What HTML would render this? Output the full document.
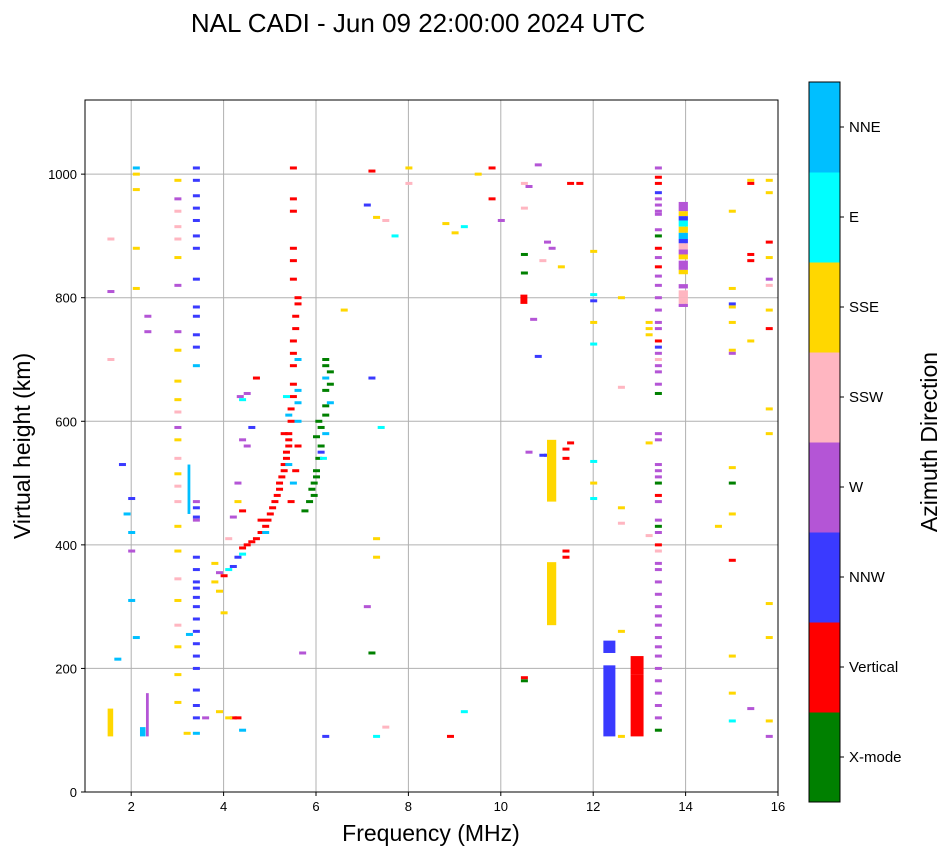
<!DOCTYPE html>
<html><head><meta charset="utf-8"><style>
body{margin:0;background:#fff;font-family:"Liberation Sans","DejaVu Sans",sans-serif}
svg text{font-family:"Liberation Sans","DejaVu Sans",sans-serif}
</style></head><body>
<svg id="c" width="951" height="856"></svg>
<script>
const dirNames=['X-mode','Vertical','NNW','W','SSW','SSE','E','NNE'];
const dirColors=['#008000','#ff0000','#3a3aff','#b455d6','#ffb6c1','#ffd700','#00ffff','#00bfff'];
const xTicks=[2,4,6,8,10,12,14,16];
const yTicks=[0,200,400,600,800,1000];
// echo groups: each entry [freq MHz, height km, direction index]
const lowFreqEchoes=[[2.1,1010,7],[2.1,1000,5],[2.1,975,5],[2.1,880,5],[2.1,815,5],[2.35,770,3],[2.35,745,3],[1.55,810,3],[1.55,700,4],[1.55,895,4],[1.8,530,2],[2.0,475,2],[2.0,390,3],[2.0,310,7],[1.7,215,7],[2.0,420,7],[1.9,450,7],[2.1,250,7]];
const col30Echoes=[[3.0,990,5],[3.0,960,3],[3.0,940,4],[3.0,915,4],[3.0,895,4],[3.0,865,5],[3.0,820,3],[3.0,745,3],[3.0,715,5],[3.0,665,5],[3.0,635,5],[3.0,615,4],[3.0,590,3],[3.0,570,5],[3.0,540,4],[3.0,515,5],[3.0,495,4],[3.0,470,4],[3.0,430,5],[3.0,390,5],[3.0,345,4],[3.0,310,5],[3.0,270,4],[3.0,235,5],[3.0,190,5],[3.0,145,5]];
const col34Echoes=[[3.4,1010,2],[3.4,990,2],[3.4,965,2],[3.4,945,2],[3.4,925,2],[3.4,900,2],[3.4,880,2],[3.4,830,2],[3.4,785,2],[3.4,770,2],[3.4,740,2],[3.4,720,2],[3.4,690,7],[3.4,470,3],[3.4,460,2],[3.4,445,2],[3.4,440,3],[3.4,380,2],[3.4,360,2],[3.4,340,2],[3.4,330,2],[3.4,315,2],[3.4,300,2],[3.4,280,2],[3.4,260,2],[3.4,240,2],[3.4,220,2],[3.4,200,2],[3.4,165,2],[3.4,140,2],[3.4,120,2],[3.4,95,7],[3.2,95,5],[3.25,255,7]];
const mainTraceEchoes=[[3.8,370,5],[3.9,355,3],[4.0,350,1],[4.1,360,6],[4.2,365,2],[4.3,380,2],[4.4,385,6],[4.4,395,1],[4.5,400,1],[4.6,405,1],[4.7,410,1],[4.8,420,1],[4.9,430,1],[4.95,440,1],[5.0,450,1],[5.05,460,1],[5.1,470,1],[5.15,480,1],[5.2,490,1],[5.2,500,1],[5.25,510,1],[5.3,520,1],[5.3,530,1],[5.35,540,1],[5.35,550,1],[5.4,560,1],[5.4,570,1],[5.4,580,1],[5.45,600,1],[5.45,620,1],[5.5,640,1],[5.5,660,1],[5.5,690,1],[5.5,710,1],[5.5,730,1],[5.55,750,1],[5.55,770,1],[5.6,790,1],[5.6,800,1],[5.5,830,1],[5.5,860,1],[5.5,880,1],[5.5,940,1],[5.5,960,1],[5.5,1010,1],[5.6,600,7],[5.6,630,7],[5.6,650,7],[5.6,700,7],[5.4,610,7],[5.35,640,6],[5.45,470,1],[5.5,500,7],[5.55,520,1],[5.3,580,1],[5.6,560,1],[5.4,530,7],[4.9,420,7],[4.8,440,1]];
const sideEchoes=[[4.35,640,3],[4.4,635,6],[4.5,645,3],[4.7,670,1],[4.4,570,3],[4.5,560,3],[4.6,590,2],[4.3,500,3],[4.3,470,5],[4.2,445,3],[4.4,455,1],[4.1,410,4],[4.0,290,5],[3.9,325,5],[3.8,340,5],[4.2,120,1],[4.3,120,1],[4.1,120,5],[4.4,100,7],[3.9,130,5],[3.6,120,3]];
const greenTraceEchoes=[[5.7,225,3],[5.75,455,0],[5.85,470,0],[5.9,490,0],[5.95,500,0],[6.0,520,0],[6.05,540,0],[6.1,560,0],[6.0,575,0],[6.1,590,0],[6.05,600,0],[6.2,610,0],[6.2,625,0],[6.2,650,0],[6.3,660,0],[6.2,670,7],[6.3,680,0],[6.2,690,0],[6.2,700,0],[6.1,550,2],[6.2,580,7],[6.3,630,7],[6.15,540,6],[5.95,480,0],[6.0,510,0]];
const midEchoes=[[6.2,90,2],[6.6,780,5],[7.1,950,2],[7.3,930,5],[7.5,925,4],[7.7,900,6],[7.2,1005,1],[7.2,670,2],[7.3,410,5],[7.3,380,5],[7.4,590,6],[7.1,300,3],[7.2,225,0],[8.0,1010,5],[8.0,985,4],[8.8,920,5],[9.0,905,5],[9.2,915,6],[9.5,1000,5],[9.8,1010,1],[9.8,960,1],[10.0,925,3],[10.5,985,4],[10.5,945,4],[10.6,980,3],[10.7,765,3],[10.8,705,2],[10.9,860,4],[11.0,890,3],[11.1,880,3],[11.3,850,5],[11.5,985,1],[11.7,985,1],[12.0,875,5],[12.0,805,6],[12.0,795,2],[12.0,760,5],[12.0,725,6],[12.6,800,5],[12.6,655,4],[12.6,460,5],[12.6,435,4],[11.5,565,1],[11.4,555,1],[11.4,540,1],[11.0,545,2],[10.9,545,2],[10.8,1015,3],[10.5,870,0],[10.5,840,0],[10.6,550,3],[9.2,130,6],[8.9,90,1],[7.3,90,6],[7.5,105,4],[10.5,180,0],[10.5,185,1],[11.4,390,1],[11.4,380,1],[12.0,535,6],[12.0,475,6],[12.0,500,5],[12.6,260,5],[12.6,90,5]];
const col134Echoes=[[13.2,760,5],[13.2,750,5],[13.2,740,5],[13.4,1010,3],[13.4,995,1],[13.4,985,1],[13.4,970,2],[13.4,960,3],[13.4,950,3],[13.4,940,3],[13.4,935,3],[13.4,910,3],[13.4,900,0],[13.4,880,1],[13.4,865,3],[13.4,850,1],[13.4,835,3],[13.4,820,3],[13.4,800,3],[13.4,780,3],[13.4,760,3],[13.4,750,3],[13.4,730,1],[13.4,720,2],[13.4,710,3],[13.4,700,4],[13.4,690,3],[13.4,680,3],[13.4,660,3],[13.4,645,0],[13.4,580,3],[13.4,570,3],[13.4,530,3],[13.4,520,3],[13.4,510,3],[13.4,500,0],[13.4,480,1],[13.4,470,3],[13.4,440,3],[13.4,430,0],[13.4,420,3],[13.4,400,1],[13.4,390,4],[13.4,370,3],[13.4,360,3],[13.4,340,3],[13.4,320,3],[13.4,300,3],[13.4,285,3],[13.4,270,3],[13.4,250,3],[13.4,235,3],[13.4,220,3],[13.4,200,3],[13.4,180,3],[13.4,160,3],[13.4,140,3],[13.4,120,3],[13.4,100,0],[13.2,565,5],[13.2,415,4]];
const highEchoes=[[14.7,430,5],[15.0,940,5],[15.0,815,5],[15.0,790,2],[15.0,785,5],[15.0,760,5],[15.0,715,5],[15.0,710,3],[15.0,525,5],[15.0,500,0],[15.0,450,5],[15.0,375,1],[15.0,220,5],[15.0,160,5],[15.0,115,6],[15.4,990,5],[15.4,985,1],[15.4,870,1],[15.4,860,1],[15.4,730,5],[15.4,135,3],[15.8,990,5],[15.8,970,5],[15.8,890,1],[15.8,865,5],[15.8,830,3],[15.8,820,4],[15.8,780,5],[15.8,750,1],[15.8,620,5],[15.8,580,5],[15.8,305,5],[15.8,250,5],[15.8,115,5],[15.8,90,3]];
const echoGroups=[lowFreqEchoes,col30Echoes,col34Echoes,mainTraceEchoes,sideEchoes,greenTraceEchoes,midEchoes,col134Echoes,highEchoes];
// solid blocks: [freq, h0, h1, dir, widthMHz]
const blockEchoes=[[12.35,90,205,2,0.26],[12.35,225,245,2,0.26],[12.95,90,190,1,0.28],[12.95,190,220,1,0.28],[11.1,270,372,5,0.2],[11.1,470,570,5,0.2],
[13.95,940,955,3,0.2],[13.95,932,940,5,0.2],[13.95,925,932,2,0.2],[13.95,915,925,6,0.2],[13.95,905,915,5,0.2],[13.95,895,905,7,0.2],[13.95,888,895,2,0.2],[13.95,878,888,4,0.2],[13.95,870,878,3,0.2],[13.95,862,870,5,0.2],[13.95,845,860,3,0.2],[13.95,838,845,5,0.2],[13.95,815,822,3,0.2],[13.95,800,812,4,0.2],[13.95,790,800,4,0.2],[13.95,785,790,3,0.2],
[3.25,450,530,7,0.06],[1.55,90,135,5,0.12],[2.35,90,160,3,0.06],[2.25,90,105,7,0.12],[10.5,790,805,1,0.15]];

const NS='http://www.w3.org/2000/svg';
const svg=document.getElementById('c');
const X0=85,X1=778,Y0=792,Y1=100;
const xs=f=>X0+(f-1)/(16-1)*(X1-X0);
const ys=h=>Y0-h/1120*(Y0-Y1);
function mk(t,a,p){const e=document.createElementNS(NS,t);for(const k in a)e.setAttribute(k,a[k]);(p||svg).appendChild(e);return e;}
function tx(x,y,s,size,anchor,rot){const e=mk('text',{x:x,y:y,'font-size':size,'text-anchor':anchor||'middle',fill:'#000'});if(rot)e.setAttribute('transform',`rotate(-90 ${x} ${y})`);e.textContent=s;return e;}

let t=tx(418,32,'NAL CADI - Jun 09 22:00:00 2024 UTC',26);

xTicks.forEach(v=>{if(v<16){const l=mk('line',{x1:xs(v),x2:xs(v),y1:Y1,y2:Y0,stroke:'#b0b0b0','stroke-width':1});}});
yTicks.forEach(v=>{if(v>0){const l=mk('line',{x1:X0,x2:X1,y1:ys(v),y2:ys(v),stroke:'#b0b0b0','stroke-width':1});}});
echoGroups.forEach(g=>g.forEach(d=>{
 const r=mk('rect',{x:xs(d[0])-3,y:ys(d[1])-1.5,width:7,height:3,fill:dirColors[d[2]]});
 
 
}));
blockEchoes.forEach(d=>{
 const w=d[4]*(X1-X0)/15;
 const r=mk('rect',{x:xs(d[0])-w/2,y:ys(d[2]),width:w,height:ys(d[1])-ys(d[2]),fill:dirColors[d[3]]});
 
 
});
const fr=mk('rect',{x:X0,y:Y1,width:X1-X0,height:Y0-Y1,fill:'none',stroke:'#000','stroke-width':1});

xTicks.forEach(v=>{mk('line',{x1:xs(v),x2:xs(v),y1:Y0,y2:Y0+4,stroke:'#000'});const e=tx(xs(v),Y0+19,String(v),13);});
yTicks.forEach(v=>{mk('line',{x1:X0-4,x2:X0,y1:ys(v),y2:ys(v),stroke:'#000'});const e=tx(X0-8,ys(v)+5,String(v),13,'end');});
t=tx(431,841,'Frequency (MHz)',23);
t=tx(30,446,'Virtual height (km)',23,'middle',true);
const CB0=82,CB1=802,bh=(CB1-CB0)/8;
for(let i=0;i<8;i++){
 const y=CB1-(i+1)*bh;
 const r=mk('rect',{x:809,y:y,width:31,height:bh+0.5,fill:dirColors[i]});
 
 
 mk('line',{x1:840,x2:844,y1:y+bh/2,y2:y+bh/2,stroke:'#000'});
 const e=tx(849,y+bh/2+5,dirNames[i],15,'start');
 
}
mk('rect',{x:809,y:CB0,width:31,height:CB1-CB0,fill:'none',stroke:'#000'});
t=tx(937,442,'Azimuth Direction',23,'middle',true);
</script>
</body></html>
